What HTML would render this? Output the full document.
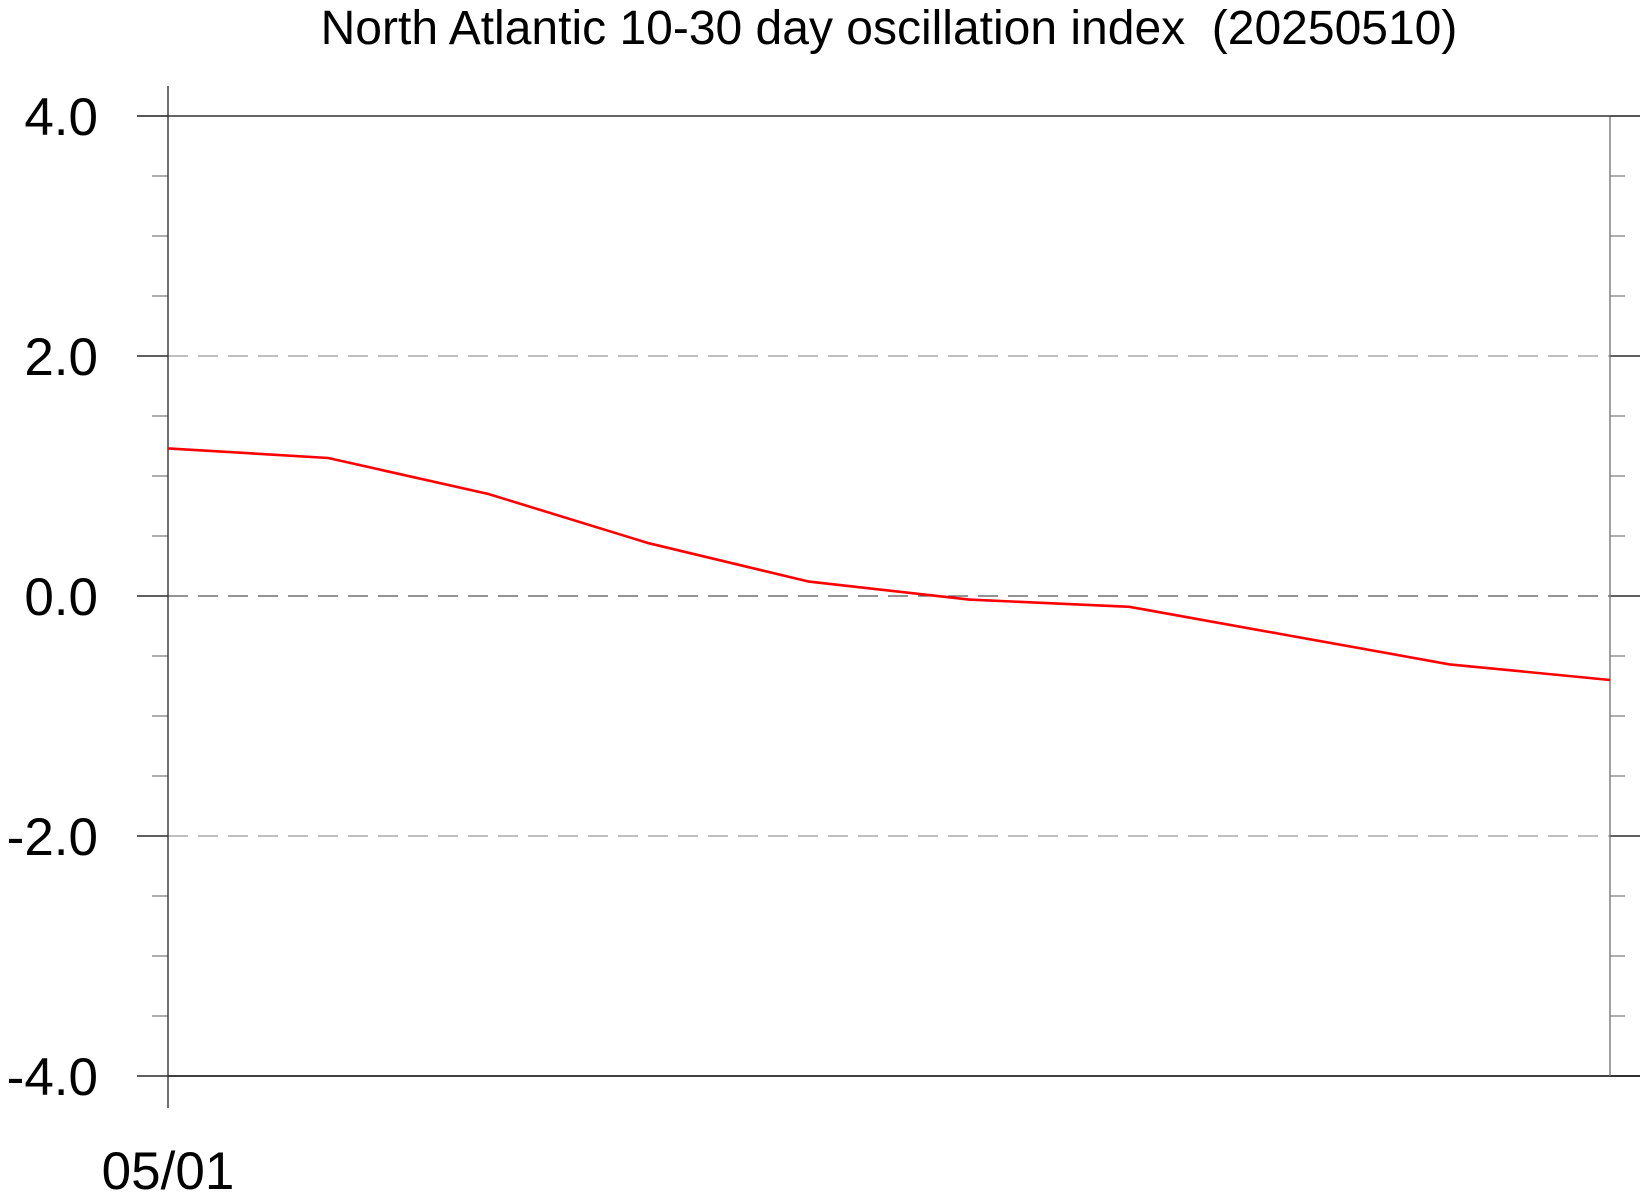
<!DOCTYPE html>
<html><head><meta charset="utf-8"><style>body{margin:0;background:#fff}svg{display:block}</style></head>
<body>
<svg width="1649" height="1198" font-family="'Liberation Sans', sans-serif">
<text x="889" y="44" font-size="48" text-anchor="middle" style="white-space:pre">North Atlantic 10-30 day oscillation index  (20250510)</text>
<g id="grid"></g><g id="axes"></g><g id="series"></g>
</svg>
<script>
const categories=["05/01","05/02","05/03","05/04","05/05","05/06","05/07","05/08","05/09","05/10"];
const values=[1.23,1.15,0.85,0.44,0.12,-0.03,-0.09,-0.33,-0.57,-0.70];
const yTickValues=[4,2,0,-2,-4];
const yTickLabels=["4.0","2.0","0.0","-2.0","-4.0"];
const xTickLabels=["05/01"];
const NS="http://www.w3.org/2000/svg";
const L=168,R=1610,T=116,B=1076,ymin=-4,ymax=4;
const xs=i=>L+(R-L)*i/(categories.length-1);
const ys=v=>B-(v-ymin)/(ymax-ymin)*(B-T);
function mk(tag,attrs,parent){const e=document.createElementNS(NS,tag);for(const k in attrs)e.setAttribute(k,attrs[k]);parent.appendChild(e);return e;}
const gridG=document.getElementById('grid'),axesG=document.getElementById('axes'),seriesG=document.getElementById('series');
for(let v=ymin;v<=ymax+1e-9;v+=0.5){
  const y=ys(v);const major=Math.abs(v/2-Math.round(v/2))<1e-9;
  const t1=mk('line',{x1:major?137:152,x2:L,y1:y,y2:y,stroke:major?'#000':'#777','stroke-width':1.2},axesG);
  
  
  const t2=mk('line',{x1:R,x2:major?1640:1625,y1:y,y2:y,stroke:major?'#000':'#777','stroke-width':1.2},axesG);
  
  
}
yTickValues.forEach((v,i)=>{
  const y=ys(v);
  if(v!==ymax&&v!==ymin){
    const g=mk('line',{x1:L,x2:R,y1:y,y2:y,stroke:v===0?'#555':'#999','stroke-width':1.2,'stroke-dasharray':'20 10'},gridG);
    
    
  }
  const t=mk('text',{x:98,y:y+19,'font-size':53,'text-anchor':'end'},axesG);
  t.textContent=yTickLabels[i];
  
  
});
const frame=[[L,B,1640,B,'#000'],[L,86,L,1108,'#333'],[R,T,R,B,'#777']];
frame.forEach(f=>{const l=mk('line',{x1:f[0],y1:f[1],x2:f[2],y2:f[3],stroke:f[4],'stroke-width':1.4},axesG);
  
  });
const topAxis=mk('line',{x1:137,y1:T,x2:1640,y2:T,stroke:'#333','stroke-width':1.4},axesG);


xTickLabels.forEach((lab,i)=>{const t=mk('text',{x:xs(i),y:1189,'font-size':53,'text-anchor':'middle'},axesG);t.textContent=lab;
  
  });
const line=mk('polyline',{points:values.map((v,i)=>xs(i)+','+ys(v)).join(' '),fill:'none',stroke:'#ff0000','stroke-width':2.6},seriesG);


</script>
</body></html>
